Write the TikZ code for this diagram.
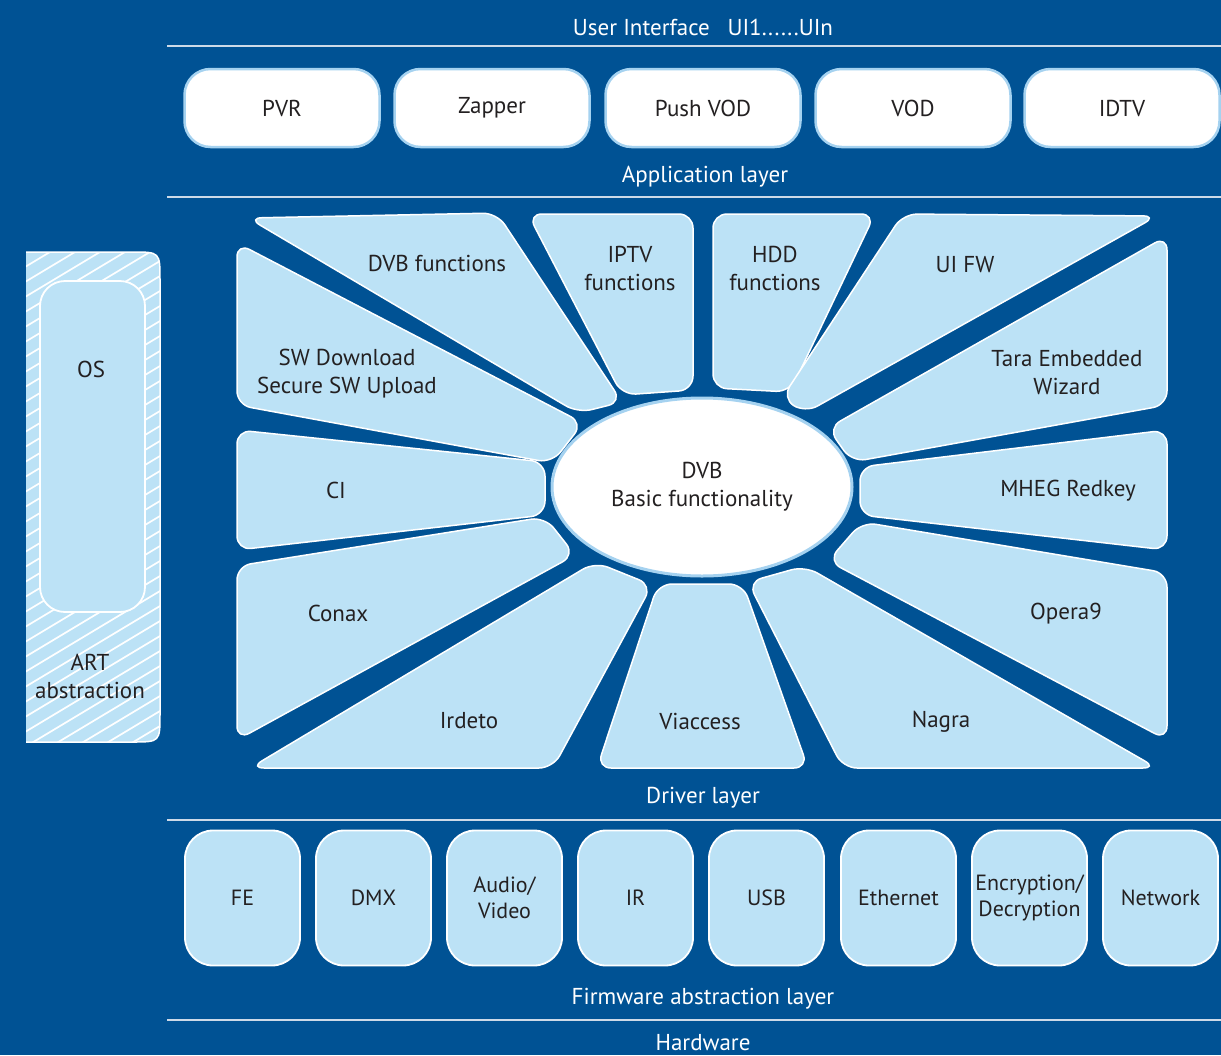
\documentclass[tikz,border=0pt]{standalone}
\usepackage{fontspec}
\setmainfont{PT Sans}
\usetikzlibrary{shapes,arrows}
\usetikzlibrary{shapes.geometric}

\definecolor{bgblue}{RGB}{0,82,148}
\definecolor{petalblue}{RGB}{188,226,246}
\definecolor{rimblue}{RGB}{165,210,240}
\definecolor{inkgray}{RGB}{35,32,33}
\definecolor{rulegray}{RGB}{205,218,232}
\newcommand{\lblfont}{\fontsize{23}{28}\selectfont}
\newcommand{\fwfont}{\fontsize{22}{26}\selectfont}

\begin{document}
\begin{tikzpicture}[x=1pt, y=-1pt]
\tikzstyle{app} = [rectangle, draw=rimblue, line width=2.5pt, fill=white,
    rounded corners=26pt, minimum width=195pt, minimum height=78pt,
    text=inkgray, font=\lblfont]
\tikzstyle{fw} = [rectangle, draw=white, line width=1.8pt, fill=petalblue,
    rounded corners=28pt, minimum width=115pt, minimum height=135pt,
    text=inkgray, font=\fwfont, align=center, inner sep=1pt]
\tikzstyle{petal} = [draw=white, line width=1.5pt, fill=petalblue, rounded corners=14pt]
\tikzstyle{lbl} = [text=inkgray, font=\lblfont, align=center]
\tikzstyle{layer} = [text=white, font=\lblfont]
\tikzstyle{rule} = [draw=rulegray, line width=1.5pt]

    \useasboundingbox (0,0) rectangle (1221,1055);
    \fill [bgblue] (0,0) rectangle (1221,1055);

    % Layer rules and names
    \path [rule] (167,46) -- (1221,46);
    \path [rule] (167,197) -- (1221,197);
    \path [rule] (167,820) -- (1221,820);
    \path [rule] (167,1020) -- (1221,1020);
    \node [layer] (ui) at (703,27) {User Interface\enspace\ UI1......UIn};
    \node [layer] (applayer) at (705,177) {Application layer};
    \node [layer] (drvlayer) at (703,798) {Driver layer};
    \node [layer] (fwlayer) at (703,999) {Firmware abstraction layer};
    \node [layer] (hw) at (703,1043) {Hardware};

    % Place application boxes
    \node [app] (pvr) at (282,108) {PVR};
    \node [app] (zapper) at (492,108) {Zapper};
    \node [app] (pushvod) at (703,108) {Push VOD};
    \node [app] (vod) at (913,108) {VOD};
    \node [app] (idtv) at (1122,108) {IDTV};

    % ART abstraction with OS
    \fill [petalblue] (26,252) -- (132,252) .. controls (160,252) .. (160,280)
        -- (160,714) .. controls (160,742) .. (132,742) -- (26,742) -- cycle;
    \begin{scope}
        \clip (26,252) -- (132,252) .. controls (160,252) .. (160,280)
            -- (160,714) .. controls (160,742) .. (132,742) -- (26,742) -- cycle;
        \foreach \k in {0,...,42}
            \draw [white, line width=1.7pt] (20,{240+15*\k}) -- (170,{240+15*\k-90});
    \end{scope}
    \draw [white, line width=1.5pt] (26,252) -- (132,252) .. controls (160,252) .. (160,280)
        -- (160,714) .. controls (160,742) .. (132,742) -- (26,742);
    \node [rectangle, draw=white, line width=1.8pt, fill=petalblue, rounded corners=25pt,
        minimum width=105pt, minimum height=331pt] (osbox) at (92.5,446.5) {};
    \node [lbl] (os) at (91,369) {OS};
    \node [lbl] (art) at (90,676) {ART\\abstraction};

    % Petals round the core
    \path [petal] (248,218) -- (497,213) -- (622,402) -- (578,413) -- cycle;
    \path [petal] (528,214) -- (693,214) -- (693,390) -- (622,395) -- cycle;
    \path [petal] (713,214) -- (875,214) -- (790,392) -- (713,388) -- cycle;
    \path [petal] (903,214) -- (1157,216) -- (805,413) -- (782,398) -- cycle;
    \path [petal] (237,243) -- (583,423) -- (552,463) -- (237,405) -- cycle;
    \path [petal] (1167,236) -- (1167,405) -- (852,462) -- (828,428) -- cycle;
    \path [petal] (237,430) -- (545,462) -- (545,515) -- (237,550) -- cycle;
    \path [petal] (860,467) -- (1167,430) -- (1167,550) -- (860,515) -- cycle;
    \path [petal] (237,566) -- (545,517) -- (575,555) -- (237,740) -- cycle;
    \path [petal] (862,522) -- (1167,573) -- (1167,740) -- (828,561) -- cycle;
    \path [petal] (250,768) -- (595,562) -- (652,585) -- (553,768) -- cycle;
    \path [petal] (658,584) -- (743,584) -- (808,768) -- (597,768) -- cycle;
    \path [petal] (748,582) -- (805,566) -- (1157,768) -- (843,768) -- cycle;

    \node [ellipse, draw=rimblue, line width=3pt, fill=white, minimum width=300pt,
        minimum height=178pt, lbl] (core) at (702,487) {DVB\\Basic functionality};

    % Petal names
    \node [lbl] (dvbfun) at (437,263) {DVB functions};
    \node [lbl] (iptv) at (630,268) {IPTV\\functions};
    \node [lbl] (hdd) at (775,268) {HDD\\functions};
    \node [lbl] (uifw) at (965,265) {UI FW};
    \node [lbl] (swdl) at (347,374) {SW Download\\Secure SW Upload};
    \node [lbl] (tara) at (1067,373) {Tara Embedded\\Wizard};
    \node [lbl] (ci) at (336,490) {CI};
    \node [lbl] (mheg) at (1068,491) {MHEG Redkey};
    \node [lbl] (conax) at (338,613) {Conax};
    \node [lbl] (opera) at (1066,614) {Opera9};
    \node [lbl] (irdeto) at (469,721) {Irdeto};
    \node [lbl] (viaccess) at (700,721) {Viaccess};
    \node [lbl] (nagra) at (941,722) {Nagra};

    % Place firmware boxes
    \node [fw] (fe) at (242.5,898) {FE};
    \node [fw] (dmx) at (373.5,898) {DMX};
    \node [fw] (av) at (504.5,898) {Audio/\\Video};
    \node [fw] (ir) at (635.5,898) {IR};
    \node [fw] (usb) at (766.5,898) {USB};
    \node [fw] (eth) at (898.5,898) {Ethernet};
    \node [fw] (crypt) at (1029.5,898) {Encryption/\\Decryption};
    \node [fw] (net) at (1160.5,898) {Network};
\end{tikzpicture}
\end{document}
